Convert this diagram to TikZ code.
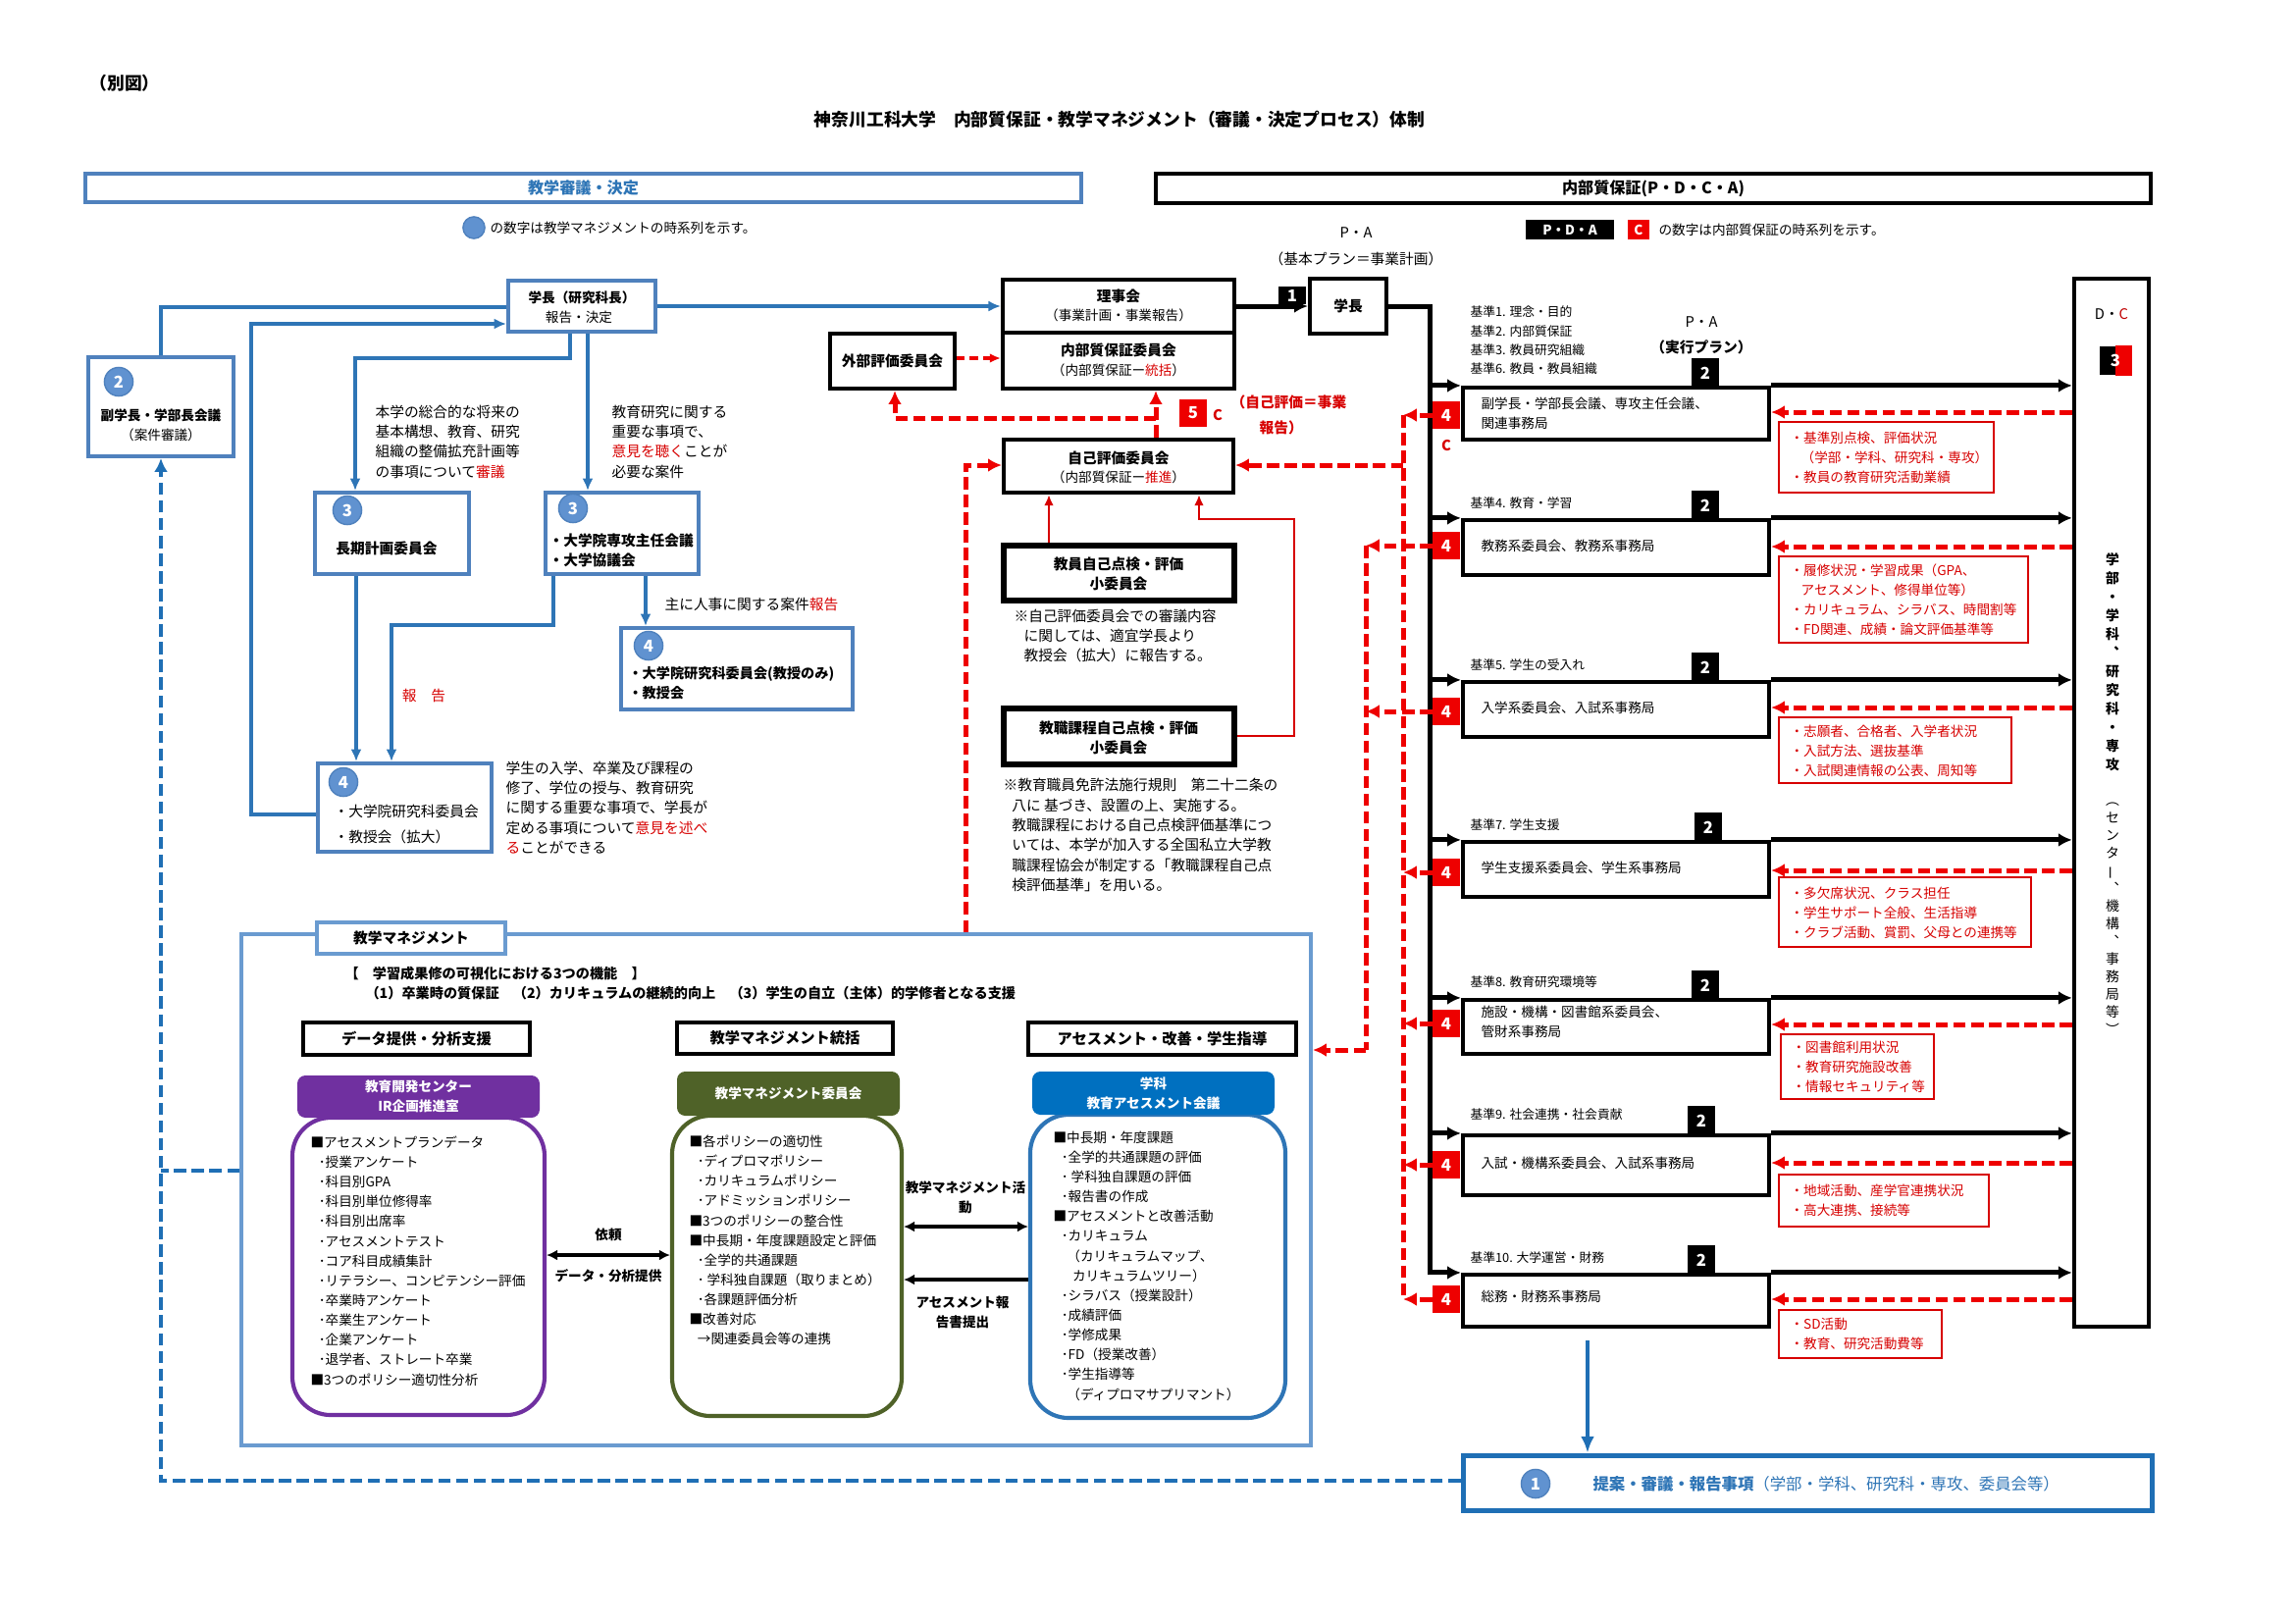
\documentclass[tikz,border=0pt]{standalone}
\usepackage{fontspec}
\setmainfont{Noto Sans CJK JP}
\usepackage{graphicx}
\usetikzlibrary{arrows.meta,fit,calc}
\definecolor{lblue}{RGB}{46,117,182}
\definecolor{bxblue}{RGB}{79,129,189}
\definecolor{cblue}{RGB}{96,146,208}
\definecolor{mblue}{RGB}{106,155,208}
\definecolor{rred}{RGB}{238,0,0}
\definecolor{tred}{RGB}{215,0,0}
\definecolor{ppl}{RGB}{112,48,160}
\definecolor{grn}{RGB}{79,98,40}
\definecolor{hblue}{RGB}{0,112,192}
\definecolor{dblue}{RGB}{31,111,181}
\definecolor{dkred}{RGB}{192,0,0}
\newcommand\szA{\fontsize{5.3pt}{7.3pt}\selectfont}
\newcommand\szB{\fontsize{4.9pt}{7.25pt}\selectfont}
\newcommand\szC{\fontsize{4.6pt}{6.95pt}\selectfont}
\newcommand\szD{\fontsize{5.1pt}{7.2pt}\selectfont}
\newcommand\szE{\fontsize{5.5pt}{7pt}\selectfont}
\newcommand\szH{\fontsize{5.8pt}{7pt}\selectfont}
\newcommand\szT{\fontsize{6.4pt}{8pt}\selectfont}
\newcommand\szN{\fontsize{6pt}{7pt}\selectfont}
\newcommand\szP{\fontsize{5.9pt}{7pt}\selectfont}
\newcommand\szV{\fontsize{5pt}{6.84pt}\selectfont}
\newcommand\szW{\fontsize{5pt}{6.5pt}\selectfont}
\newcommand\subi{\hspace*{3pt}･}
\tikzset{
  bbox/.style={draw=bxblue, line width=1.44pt, fill=white, inner sep=0},
  kbox/.style={draw=black, line width=1.5pt, fill=white, inner sep=0},
  rbox/.style={draw=black, line width=1.5pt, fill=white, inner sep=0},
  bl/.style={draw=lblue, line width=1.5pt},
  blar/.style={bl, -{Latex[length=4.5pt,width=4pt]}},
  rd/.style={draw=rred, line width=1.8pt, dash pattern=on 4.5pt off 2pt},
  rdar/.style={rd, -{Latex[length=5pt,width=5pt]}},
  rsol/.style={draw=tred, line width=0.9pt, -{Latex[length=4pt,width=3.5pt]}},
  kar/.style={draw=black, line width=1.8pt, -{Latex[length=5pt,width=5pt]}},
  dar/.style={draw=black, line width=1.1pt, {Latex[length=4pt,width=4pt]}-{Latex[length=4pt,width=4pt]}},
  sar/.style={draw=black, line width=1.3pt, -{Latex[length=4pt,width=4pt]}},
  bd/.style={draw=dblue, line width=1.5pt, dash pattern=on 4.5pt off 2pt},
  num/.style={circle, fill=cblue, draw=bxblue, line width=0.5pt, minimum size=10.5pt, inner sep=0, text=white, font=\szN\bfseries},
  rsq/.style={fill=rred, minimum width=10pt, minimum height=10pt, inner sep=0, text=white, font=\szN\bfseries},
  ksq/.style={fill=black, minimum width=10pt, minimum height=10.5pt, inner sep=0, text=white, font=\szN\bfseries},
  txt/.style={inner sep=0, font=\szA, align=left, anchor=west},
  ctr/.style={inner sep=0, font=\szA, align=center},
  note/.style={draw=tred, line width=0.5pt, inner sep=0},
}
\begin{document}
\begin{tikzpicture}[x=0.36pt,y=-0.36pt]
\useasboundingbox (0,0) rectangle (2338,1654);
\fill[white] (0,0) rectangle (2338,1654);

% ---------- titles ----------
\node[txt, font=\szT\bfseries] (betsu) at (91,85) {（別図）};
\node[ctr, font=\szT\bfseries] (title) at (1141,122) {神奈川工科大学　内部質保証・教学マネジメント（審議・決定プロセス）体制};
\node[draw=bxblue, line width=1.44pt, fit={(87,177)(1102,206)}, inner sep=0] (hdrL) {};
\node[ctr, font=\szH\bfseries, text=lblue] (hdrLt) at (hdrL.center) {教学審議・決定};
\node[draw=black, line width=1.6pt, fit={(1178,177)(2192,207)}, inner sep=0] (hdrR) {};
\node[ctr, font=\szH\bfseries] (hdrRt) at (hdrR.center) {内部質保証(P・D・C・A)};

% legends
\node[num, minimum size=8pt] (lgc) at (483,232) {};
\node[txt, font=\szB] (lgt) at (499,232) {の数字は教学マネジメントの時系列を示す。};
\node[fill=black, fit={(1555,224)(1645,244)}, inner sep=0] (lgk) {};
\node[ctr, text=white, font=\szB\bfseries] (lgkt) at (lgk.center) {P・D・A};
\node[fill=rred, fit={(1659,224)(1681,244)}, inner sep=0] (lgr) {};
\node[ctr, text=white, font=\szB\bfseries] (lgrt) at (lgr.center) {C};
\node[txt, font=\szB] (lgt2) at (1690,234) {の数字は内部質保証の時系列を示す。};
\node[ctr] (pa1) at (1382,237) {P・A};
\node[ctr] (pa1b) at (1382,264) {（基本プラン＝事業計画）};

% ---------- left: governance ----------
\node[bbox, fit={(518,286)(668,338)}] (gk) {};
\node[ctr, font=\szB\bfseries] (gkt) at (593,303) {学長（研究科長）};
\node[ctr, font=\szB] (gks) at (590,323) {報告・決定};

\node[bbox, fit={(90,364)(238,465)}] (fuku) {};
\node[num] (c2) at (121,389) {2};
\node[ctr, font=\szB\bfseries] (fukut) at (164,423) {副学長・学部長会議};
\node[ctr, font=\szB] (fukus) at (164,443) {（案件審議）};

\node[bbox, fit={(321,502)(478,585)}] (choki) {};
\node[num] (c3a) at (354,520) {3};
\node[ctr, font=\szA\bfseries] (chokit) at (394,559) {長期計画委員会};

\node[bbox, fit={(556,502)(712,585)}] (senko) {};
\node[num] (c3b) at (584,518) {3};
\node[txt, font=\szA\bfseries] (senkot) at (559,561) {・大学院専攻主任会議\\・大学協議会};

\node[bbox, fit={(633,640)(869,723)}] (kyoju) {};
\node[num] (c4a) at (661,658) {4};
\node[txt, font=\szD\bfseries] (kyojut) at (640,696) {・大学院研究科委員会(教授のみ)\\・教授会};

\node[bbox, fit={(324,778)(501,868)}] (kenkyu) {};
\node[num] (c4b) at (350,797) {4};
\node[txt, font=\szA] (kenkyut) at (340,840) {・大学院研究科委員会\\[2.2pt]・教授会（拡大）};

\node[txt] (tx1) at (382,450) {本学の総合的な将来の\\基本構想、教育、研究\\組織の整備拡充計画等\\の事項について\textcolor{tred}{審議}};
\node[txt] (tx2) at (623,450) {教育研究に関する\\重要な事項で、\\\textcolor{tred}{意見を聴く}ことが\\必要な案件};
\node[txt] (tx3) at (677,616) {主に人事に関する案件\textcolor{tred}{報告}};
\node[ctr, text=tred] (tx4) at (432,709) {報　告};
\node[txt] (tx5) at (515,823) {学生の入学、卒業及び課程の\\修了、学位の授与、教育研究\\に関する重要な事項で、学長が\\定める事項について\textcolor{tred}{意見を述べ}\\\textcolor{tred}{る}ことができる};

% ---------- middle: boards ----------
\node[kbox, fit={(1022,285)(1258,339)}] (rijikai) {};
\node[kbox, fit={(1022,339)(1258,396)}] (naibu) {};
\node[ctr, font=\szA\bfseries] (rjt) at (1140,302) {理事会};
\node[ctr, font=\szB] (rjs) at (1140,321) {（事業計画・事業報告）};
\node[ctr, font=\szA\bfseries] (nbt) at (1140,357) {内部質保証委員会};
\node[ctr, font=\szB] (nbs) at (1140,377) {（内部質保証ー\textcolor{tred}{統括}）};

\node[kbox, fit={(846,340)(973,396)}] (gaibu) {};
\node[ctr, font=\szA\bfseries] (gaibut) at (gaibu.center) {外部評価委員会};

\node[kbox, fit={(1023,448)(1257,502)}] (jiko) {};
\node[ctr, font=\szA\bfseries] (jikot) at (1140,467) {自己評価委員会};
\node[ctr, font=\szB] (jikos) at (1140,486) {（内部質保証ー\textcolor{tred}{推進}）};

\node[kbox, fit={(1022,555)(1259,613)}] (kyoin) {};
\draw[line width=0.6pt] ($(kyoin.south west)+(5,-5)$) rectangle ($(kyoin.north east)+(-5,5)$);
\node[ctr, font=\szA\bfseries] (kyoint) at (1140,585) {教員自己点検・評価\\小委員会};

\node[kbox, fit={(1022,721)(1259,780)}] (kyosho) {};
\draw[line width=0.6pt] ($(kyosho.south west)+(5,-5)$) rectangle ($(kyosho.north east)+(-5,5)$);
\node[ctr, font=\szA\bfseries] (kyoshot) at (1140,752) {教職課程自己点検・評価\\小委員会};

\node[txt] (note1) at (1033,648) {※自己評価委員会での審議内容\\\hspace*{3.6pt}に関しては、適宜学長より\\\hspace*{3.6pt}教授会（拡大）に報告する。};
\node[txt] (note2) at (1022,851) {※教育職員免許法施行規則　第二十二条の\\\hspace*{3.2pt}八に 基づき、設置の上、実施する。\\\hspace*{3.2pt}教職課程における自己点検評価基準につ\\\hspace*{3.2pt}いては、本学が加入する全国私立大学教\\\hspace*{3.2pt}職課程協会が制定する「教職課程自己点\\\hspace*{3.2pt}検評価基準」を用いる。};

\node[rsq] (five) at (1216,421) {5};
\node[ctr, text=tred, font=\szA\bfseries] (fivec) at (1241,423) {C};
\node[txt, text=tred, font=\szA\bfseries] (jh1) at (1254,410) {（自己評価＝事業};
\node[txt, text=tred, font=\szA\bfseries] (jh2) at (1283,436) {報告）};

% blue connectors (left)
\draw[bl] (fuku.north) |- (gk.west |- 0,313);
\draw[blar] (kenkyu.west |- 0,830) -| (256,330) -- (gk.west |- 0,330);
\draw[blar] (gk.east |- 0,312) -- (rijikai.west |- 0,312);
\draw[blar] (gk.south -| 581,0) |- (362,365) -- (choki.north -| 362,0);
\draw[blar] (gk.south -| 599,0) -- (senko.north -| 599,0);
\draw[blar] (choki.south -| 363,0) -- (kenkyu.north -| 363,0);
\draw[blar] (senko.south -| 564,0) |- (399,637) -- (kenkyu.north -| 399,0);
\draw[blar] (senko.south -| 658,0) -- (kyoju.north -| 658,0);

% red connectors (middle)
\draw[rdar, line width=1.1pt, dash pattern=on 3pt off 1.8pt, -{Latex[length=4pt,width=3.5pt]}] (gaibu.east |- 0,365) -- (naibu.west |- 0,365);
\draw[rdar] (jiko.north -| 1178,0) -- (naibu.south -| 1178,0);
\coordinate (jn) at (1178,426);
\draw[rdar] (jn) -| (gaibu.south -| 912,0);
\draw[rsol] (kyoin.north -| 1069,0) -- (jiko.south -| 1069,0);
\draw[rsol] (kyosho.east |- 0,750) -| (1319,529) -| (jiko.south -| 1222,0);

% ---------- right: PDCA ----------
\node[kbox, fit={(1335,284)(1413,340)}] (gk2) {};
\node[ctr, font=\szA\bfseries] (gk2t) at (gk2.center) {学長};
\draw[kar] (rijikai.east |- 0,312) -- (gk2.west |- 0,312);
\node[fill=black, text=white, font=\szN\bfseries, minimum width=10pt, minimum height=6.5pt, inner sep=0] (one) at (1317,301) {1};
\coordinate (trT) at (1457,312);
\coordinate (trB) at (1457,1299);
\draw[draw=black, line width=1.8pt] (gk2.east |- trT) -- (trT) -- (trB);

\node[kbox, line width=1.6pt, fit={(2114,284)(2190,1352)}] (dc) {};
\node[ctr] (dct) at (2152,320) {D・\textcolor{dkred}{C}};
\node[fill=black, fit={(2140,353)(2172,382)}, inner sep=0] (three) {};
\fill[rred] (three.north) rectangle (three.south east);
\node[ctr, text=white, font=\szN\bfseries] (threet) at (three.center) {3};
\node[ctr, font=\szV\bfseries, anchor=north] (vt1) at (2153,563) {学\\部\\・\\学\\科\\︑\\研\\究\\科\\・\\専\\攻};
\node[ctr, font=\szW, anchor=north] (vt2) at (2153,817) {︵\\セ\\ン\\タ\\\rotatebox[origin=c]{90}{ー}\\︑\\機\\構\\︑\\事\\務\\局\\等\\︶};

\node[ctr] (pa2) at (1734,328) {P・A};
\node[ctr, font=\szA\bfseries] (pa2b) at (1734,354) {（実行プラン）};
\node[ctr, text=tred, font=\szA\bfseries] (cc) at (1474,454) {C};

\coordinate (lnA) at (1430,423);
\coordinate (lnAb) at (1430,1324);
\coordinate (lnB) at (1392,556);
\coordinate (lnBb) at (1392,1070);

% rows
\node[rbox, fit={(1491,395)(1803,448)}] (r1) {};
\node[txt, font=\szB] (t1) at (1509,421) {副学長・学部長会議、専攻主任会議、\\関連事務局};
\node[ksq, anchor=south] (b1) at (1738,395) {2};
\node[rsq] (f1) at (1474,423) {4};
\node[txt, font=\szC] (k1) at (1498,347) {基準1. 理念・目的\\基準2. 内部質保証\\基準3. 教員研究組織\\基準6. 教員・教員組織};
\node[note, fit={(1813,430)(2032,502)}] (n1) {};
\node[txt, font=\szB, text=tred] (nt1) at (1824,466) {・基準別点検、評価状況\\\hspace*{4pt}（学部・学科、研究科・専攻）\\・教員の教育研究活動業績};

\node[rbox, fit={(1491,530)(1803,586)}] (r2) {};
\node[txt, font=\szB] (t2) at (1509,556) {教務系委員会、教務系事務局};
\node[ksq, anchor=south] (b2) at (1738,530) {2};
\node[rsq] (f2) at (1474,556) {4};
\node[txt, font=\szC] (k2) at (1498,513) {基準4. 教育・学習};
\node[note, fit={(1813,567)(2067,655)}] (n2) {};
\node[txt, font=\szB, text=tred] (nt2) at (1824,611) {・履修状況・学習成果（GPA、\\\hspace*{4pt}アセスメント、修得単位等）\\・カリキュラム、シラバス、時間割等\\・FD関連、成績・論文評価基準等};

\node[rbox, fit={(1491,695)(1803,751)}] (r3) {};
\node[txt, font=\szB] (t3) at (1509,721) {入学系委員会、入試系事務局};
\node[ksq, anchor=south] (b3) at (1738,695) {2};
\node[rsq] (f3) at (1474,725) {4};
\node[txt, font=\szC] (k3) at (1498,678) {基準5. 学生の受入れ};
\node[note, fit={(1813,731)(2050,798)}] (n3) {};
\node[txt, font=\szB, text=tred] (nt3) at (1824,765) {・志願者、合格者、入学者状況\\・入試方法、選抜基準\\・入試関連情報の公表、周知等};

\node[rbox, fit={(1491,858)(1803,914)}] (r4) {};
\node[txt, font=\szB] (t4) at (1509,884) {学生支援系委員会、学生系事務局};
\node[ksq, anchor=south] (b4) at (1741,858) {2};
\node[rsq] (f4) at (1474,889) {4};
\node[txt, font=\szC] (k4) at (1498,841) {基準7. 学生支援};
\node[note, fit={(1813,894)(2070,965)}] (n4) {};
\node[txt, font=\szB, text=tred] (nt4) at (1824,930) {・多欠席状況、クラス担任\\・学生サポート全般、生活指導\\・クラブ活動、賞罰、父母との連携等};

\node[rbox, fit={(1491,1019)(1803,1074)}] (r5) {};
\node[txt, font=\szB] (t5) at (1509,1041) {施設・機構・図書館系委員会、\\管財系事務局};
\node[ksq, anchor=south] (b5) at (1738,1019) {2};
\node[rsq] (f5) at (1474,1043) {4};
\node[txt, font=\szC] (k5) at (1498,1001) {基準8. 教育研究環境等};
\node[note, fit={(1815,1054)(1971,1120)}] (n5) {};
\node[txt, font=\szB, text=tred] (nt5) at (1826,1087) {・図書館利用状況\\・教育研究施設改善\\・情報セキュリティ等};

\node[rbox, fit={(1491,1157)(1803,1218)}] (r6) {};
\node[txt, font=\szB] (t6) at (1509,1185) {入試・機構系委員会、入試系事務局};
\node[ksq, anchor=south] (b6) at (1734,1157) {2};
\node[rsq] (f6) at (1474,1187) {4};
\node[txt, font=\szC] (k6) at (1498,1136) {基準9. 社会連携・社会貢献};
\node[note, fit={(1813,1197)(2027,1250)}] (n6) {};
\node[txt, font=\szB, text=tred] (nt6) at (1824,1223) {・地域活動、産学官連携状況\\・高大連携、接続等};

\node[rbox, fit={(1491,1299)(1803,1352)}] (r7) {};
\node[txt, font=\szB] (t7) at (1509,1321) {総務・財務系事務局};
\node[ksq, anchor=south] (b7) at (1734,1299) {2};
\node[rsq] (f7) at (1474,1324) {4};
\node[txt, font=\szC] (k7) at (1498,1282) {基準10. 大学運営・財務};
\node[note, fit={(1813,1335)(1979,1384)}] (n7) {};
\node[txt, font=\szB, text=tred] (nt7) at (1824,1359) {・SD活動\\・教育、研究活動費等};

\foreach \r/\d in {r1/420,r2/557,r3/721,r4/887,r5/1044,r6/1185,r7/1324}{
  \draw[kar] (trT |- \r.north) -- (\r.north west);
  \draw[kar] (\r.north east) -- (\r.north east -| dc.west);
  \draw[rdar] (dc.west |- 0,\d) -- (\r.east |- 0,\d);
}
% red collection lines
\draw[rd] (lnA) -- (lnAb);
\draw[rd] (lnB) -- (lnBb);
\foreach \f in {f1,f4,f5,f6,f7}{
  \draw[rdar] (\f.west) -- (\f.west -| lnA);
}
\foreach \f in {f2,f3}{
  \draw[rdar] (\f.west) -- (\f.west -| lnB);
}
\draw[rdar] (lnA |- 0,474) -- (jiko.east |- 0,474);

% ---------- bottom box ----------
\node[draw=dblue, line width=1.8pt, fit={(1491,1483)(2193,1539)}, inner sep=0] (teian) {};
\node[num] (c1) at (1565,1512) {1};
\node[txt, font=\szP, text=lblue] (teiant) at (1623,1512) {\textbf{提案・審議・報告事項}（学部・学科、研究科・専攻、委員会等）};
\coordinate (bstart) at (1618,1366);
\draw[draw=dblue, line width=1.6pt, -{Latex[length=6pt,width=5pt]}] (bstart) -- (bstart |- teian.north);

% ---------- management ----------
\node[draw=mblue, line width=1.44pt, fit={(246,952)(1336,1473)}, inner sep=0] (mgmt) {};
\node[draw=mblue, line width=1.44pt, fill=white, fit={(323,940)(515,972)}, inner sep=0] (mtab) {};
\node[ctr, font=\szA\bfseries] (mtabt) at (mtab.center) {教学マネジメント};
\node[txt, font=\szD\bfseries] (m1) at (351,992) {【　学習成果修の可視化における3つの機能　】};
\node[txt, font=\szD\bfseries] (m2) at (372,1012) {（1）卒業時の質保証　（2）カリキュラムの継続的向上　（3）学生の自立（主体）的学修者となる支援};

\node[kbox, line width=1.44pt, fit={(309,1042)(540,1075)}] (s1) {};
\node[ctr, font=\szE\bfseries] (s1t) at (s1.center) {データ提供・分析支援};
\node[kbox, line width=1.44pt, fit={(690,1042)(910,1074)}] (s2) {};
\node[ctr, font=\szE\bfseries] (s2t) at (s2.center) {教学マネジメント統括};
\node[kbox, line width=1.44pt, fit={(1048,1042)(1321,1075)}] (s3) {};
\node[ctr, font=\szE\bfseries] (s3t) at (s3.center) {アセスメント・改善・学生指導};

\node[draw=ppl, line width=1.5pt, rounded corners=14pt, fit={(298,1139)(555,1442)}, inner sep=0] (pb) {};
\node[fill=ppl, rounded corners=3pt, fit={(303,1096)(550,1139)}, inner sep=0] (ph) {};
\node[ctr, text=white, font=\szB\bfseries] (pht) at (ph.center) {教育開発センター\\IR企画推進室};
\node[txt, font=\szB] (pc) at (316,1285) {■アセスメントプランデータ\\\subi 授業アンケート\\\subi 科目別GPA\\\subi 科目別単位修得率\\\subi 科目別出席率\\\subi アセスメントテスト\\\subi コア科目成績集計\\\subi リテラシー、コンピテンシー評価\\\subi 卒業時アンケート\\\subi 卒業生アンケート\\\subi 企業アンケート\\\subi 退学者、ストレート卒業\\■3つのポリシー適切性分析};

\node[draw=grn, line width=1.5pt, rounded corners=14pt, fit={(685,1137)(919,1443)}, inner sep=0] (gb) {};
\node[fill=grn, rounded corners=3pt, fit={(690,1092)(917,1137)}, inner sep=0] (gh) {};
\node[ctr, text=white, font=\szB\bfseries] (ght) at (gh.center) {教学マネジメント委員会};
\node[txt, font=\szB] (gc) at (702,1264) {■各ポリシーの適切性\\\subi ディプロマポリシー\\\subi カリキュラムポリシー\\\subi アドミッションポリシー\\■3つのポリシーの整合性\\■中長期・年度課題設定と評価\\\subi 全学的共通課題\\\subi\ 学科独自課題（取りまとめ）\\\subi 各課題評価分析\\■改善対応\\\hspace*{3pt}→関連委員会等の連携};

\node[draw=lblue, line width=1.5pt, rounded corners=14pt, fit={(1050,1136)(1310,1445)}, inner sep=0] (ab) {};
\node[fill=hblue, rounded corners=3pt, fit={(1052,1092)(1299,1136)}, inner sep=0] (ah) {};
\node[ctr, text=white, font=\szB\bfseries] (aht) at (ah.center) {学科\\教育アセスメント会議};
\node[txt, font=\szB] (ac) at (1073,1290) {■中長期・年度課題\\\subi 全学的共通課題の評価\\\subi\ 学科独自課題の評価\\\subi 報告書の作成\\■アセスメントと改善活動\\\subi カリキュラム\\\hspace*{5pt}（カリキュラムマップ、\\\hspace*{7pt}カリキュラムツリー）\\\subi シラバス（授業設計）\\\subi 成績評価\\\subi 学修成果\\\subi FD（授業改善）\\\subi 学生指導等\\\hspace*{5pt}（ディプロマサプリマント）};

\draw[dar] (pb.east |- 0,1279) -- (gb.west |- 0,1279);
\node[ctr, font=\szB\bfseries] (irai) at (620,1258) {依頼};
\node[ctr, font=\szB\bfseries] (dteikyo) at (620,1300) {データ・分析提供};
\draw[dar] (gb.east |- 0,1250) -- (ab.west |- 0,1250);
\node[ctr, font=\szB\bfseries] (katsudo) at (984,1220) {教学マネジメント活\\動};
\draw[sar] (ab.west |- 0,1304) -- (gb.east |- 0,1304);
\node[ctr, font=\szB\bfseries] (hokoku) at (981,1337) {アセスメント報\\告書提出};

% management connections
\draw[rdar] (lnBb) -- (mgmt.east |- lnBb);
\draw[rdar] (mgmt.north -| 984,0) |- (jiko.west |- 0,474);
\draw[bd, -{Latex[length=5pt,width=5pt]}] (teian.west |- 0,1509) -| (fuku.south);
\draw[bd] (mgmt.west |- 0,1193) -- (fuku.south |- 0,1193);
\end{tikzpicture}
\end{document}
